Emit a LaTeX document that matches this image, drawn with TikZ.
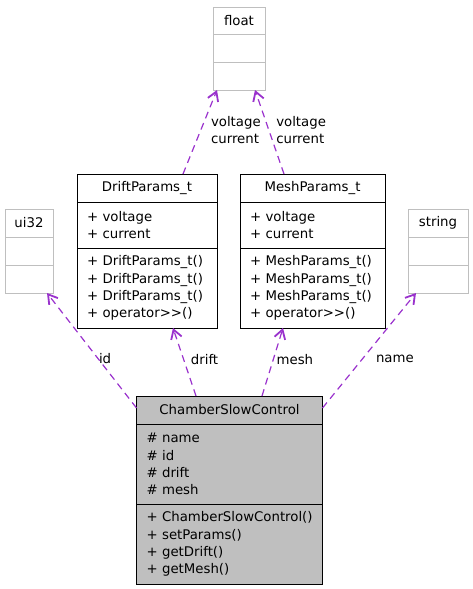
\documentclass[tikz,border=0pt]{standalone}
\usepackage{fontspec}
\setmainfont{DejaVu Sans}
\usetikzlibrary{positioning,arrows.meta}
\definecolor{edgepurple}{HTML}{9A32CD}
\definecolor{boxgray}{HTML}{BFBFBF}
\hyphenpenalty=10000
\begin{document}
\begin{tikzpicture}[x=1pt,y=-1pt,
   font=\fontsize{13.3}{17.3}\selectfont,
   every node/.style={outer sep=0pt},
   umlclass/.style={draw,fill=white,line width=1pt,inner xsep=10pt,inner ysep=0pt,text width=#1,align=left},
   extclass/.style={draw=boxgray,fill=white,line width=1pt,inner xsep=4pt,inner ysep=0pt,text width=#1,align=center,minimum height=28pt},
   umlhead/.style={align=center,minimum height=28pt},
   use edge/.style={draw=edgepurple,line width=1.2pt,dash pattern=on 7pt off 5pt,
      -{Straight Barb[length=9pt,width=11pt,line width=1.8pt]}}]
\useasboundingbox (0,0) rectangle (472,589);
\node[extclass=44pt,minimum height=27pt] (float) at (239,20.5) {float};
\node[extclass=44pt,below=0pt of float] (floatattr) {};
\node[extclass=44pt,below=0pt of floatattr] (floatmeth) {};

\node[extclass=40pt] (ui32) at (29,223) {ui32};
\node[extclass=40pt,below=0pt of ui32] (ui32attr) {};
\node[extclass=40pt,below=0pt of ui32attr] (ui32meth) {};

\node[extclass=52pt] (string) at (438,223) {string};
\node[extclass=52pt,below=0pt of string] (stringattr) {};
\node[extclass=52pt,below=0pt of stringattr] (stringmeth) {};

\node[umlclass=120pt,umlhead] (drift) at (147,188) {DriftParams\_t};
\node[umlclass=120pt,minimum height=46pt,below=0pt of drift] (driftattr) {+~voltage\\+~current};
\node[umlclass=120pt,minimum height=80pt,below=0pt of driftattr] (driftmeth)
   {+~DriftParams\_t()\\+~DriftParams\_t()\\+~DriftParams\_t()\\+~operator>{}>()};

\node[umlclass=125pt,umlhead] (mesh) at (312.5,188) {MeshParams\_t};
\node[umlclass=125pt,minimum height=46pt,below=0pt of mesh] (meshattr) {+~voltage\\+~current};
\node[umlclass=125pt,minimum height=80pt,below=0pt of meshattr] (meshmeth)
   {+~MeshParams\_t()\\+~MeshParams\_t()\\+~MeshParams\_t()\\+~operator>{}>()};

\node[umlclass=166pt,umlhead,fill=boxgray] (chamber) at (229.5,410) {ChamberSlowControl};
\node[umlclass=166pt,minimum height=80pt,fill=boxgray,below=0pt of chamber] (chamberattr)
   {\#~name\\\#~id\\\#~drift\\\#~mesh};
\node[umlclass=166pt,minimum height=80pt,fill=boxgray,below=0pt of chamberattr] (chambermeth)
   {+~ChamberSlowControl()\\+~setParams()\\+~getDrift()\\+~getMesh()};

\draw[use edge] ([xshift=36pt]drift.north) -- node[pos=.52,anchor=west,xshift=7pt,align=left] {voltage\\current} ([xshift=-22pt]floatmeth.south);
\draw[use edge] ([xshift=-28.5pt]mesh.north) -- node[pos=.52,anchor=west,xshift=4pt,align=left] {voltage\\current} ([xshift=16pt]floatmeth.south);
\draw[use edge] ([yshift=2pt]chamber.west) -- node[pos=.43,anchor=west,inner xsep=1pt] {id} ([xshift=18pt]ui32meth.south);
\draw[use edge] ([xshift=-33.5pt]chamber.north) -- node[pos=.54,anchor=west,xshift=4pt] {drift} ([xshift=26pt]driftmeth.south);
\draw[use edge] ([xshift=32.5pt]chamber.north) -- node[pos=.54,anchor=west] {mesh} ([xshift=-29.5pt]meshmeth.south);
\draw[use edge] ([yshift=2pt]chamber.east) -- node[pos=.43,anchor=west,xshift=10pt] {name} ([xshift=-22pt]stringmeth.south);
\end{tikzpicture}
\end{document}
